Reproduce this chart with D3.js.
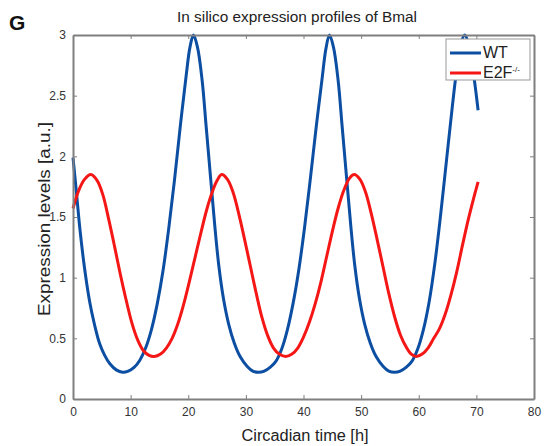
<!DOCTYPE html>
<html>
<head>
<meta charset="utf-8">
<script src="https://cdn.jsdelivr.net/npm/d3@7"></script>
<style>
  body { margin: 0; background: #fff; }
  svg text { font-family: "Liberation Sans", Arial, sans-serif; }
</style>
</head>
<body>
<svg id="chart"></svg>
<script>
// WT (blue): time [h] and expression level
const wtTime = [0, 0.6, 1.2, 2, 2.9, 3.7, 4.6, 5.5, 6.4, 7.5, 8.6,
  9.6, 10.6, 11.6, 12.6, 13.6, 14.6, 15.6, 16.6, 17.6, 18.6, 19.6, 20.3, 20.9,
  21.6, 22.4, 23.1, 23.9, 24.6, 25.3, 26.1, 27, 28, 29, 30.2, 31.2, 32.2,
  33.2, 34.2, 35.2, 36.2, 37.2, 38.2, 39.2, 40.2, 41.2, 42.2, 43.2, 43.9, 44.5,
  45.2, 46, 46.7, 47.5, 48.2, 48.9, 49.7, 50.6, 51.6, 52.6, 53.8, 54.8, 55.8,
  56.8, 57.8, 58.8, 59.8, 60.8, 61.8, 62.8, 63.8, 64.8, 65.8, 66.6, 67.3, 68,
  68.7, 69.5, 70.3];
const wtLevel = [1.99, 1.7, 1.4, 1.08, 0.8, 0.62, 0.46, 0.36, 0.29, 0.24, 0.22,
  0.23, 0.26, 0.32, 0.42, 0.57, 0.78, 1.05, 1.4, 1.8, 2.24, 2.65, 2.9, 3.0,
  2.9, 2.63, 2.25, 1.81, 1.43, 1.1, 0.83, 0.62, 0.46, 0.35, 0.27, 0.23, 0.22,
  0.23, 0.26, 0.31, 0.41, 0.57, 0.79, 1.07, 1.42, 1.82, 2.24, 2.63, 2.89, 3.0,
  2.9, 2.63, 2.25, 1.81, 1.43, 1.1, 0.83, 0.62, 0.46, 0.35, 0.27, 0.23, 0.22,
  0.23, 0.26, 0.31, 0.41, 0.57, 0.8, 1.12, 1.52, 1.96, 2.4, 2.72, 2.93, 3.0,
  2.91, 2.68, 2.38];

// E2F-/- (red)
const koTime = [0, 1, 2, 3.1, 4.2, 5.2, 6.2, 7.2, 8.2, 9.2, 10.2, 11.2, 12.2, 13.2, 14.1,
  15.2, 16.2, 17.2, 18.2, 19.2, 20.2, 21.2, 22.2, 23.2, 24.2, 25, 25.8,
  26.8, 27.8, 28.8, 29.8, 30.8, 31.8, 32.8, 33.8, 34.8, 35.8, 36.9,
  38, 39, 40, 41, 42, 43, 44, 45, 46, 47, 48, 48.8,
  49.8, 50.8, 51.8, 52.8, 53.8, 54.8, 55.8, 56.8, 57.8, 58.7, 59.6,
  60.6, 61.6, 62.6, 63.6, 64.6, 65.6, 66.6, 67.6, 68.6, 69.5, 70.3];
const koLevel = [1.57, 1.72, 1.81, 1.85, 1.8, 1.68, 1.48, 1.26, 1.03, 0.82, 0.63, 0.49, 0.4, 0.36, 0.35,
  0.37, 0.42, 0.5, 0.62, 0.78, 0.97, 1.17, 1.37, 1.56, 1.71, 1.8, 1.85,
  1.81, 1.7, 1.52, 1.31, 1.09, 0.87, 0.67, 0.52, 0.42, 0.37, 0.35,
  0.37, 0.42, 0.51, 0.63, 0.78, 0.96, 1.17, 1.38, 1.57, 1.72, 1.82, 1.85,
  1.81, 1.7, 1.52, 1.31, 1.09, 0.87, 0.68, 0.53, 0.43, 0.37, 0.35,
  0.37, 0.42, 0.5, 0.58, 0.7, 0.86, 1.05, 1.27, 1.48, 1.65, 1.79];

const xTicks = [0, 10, 20, 30, 40, 50, 60, 70, 80];
const yTicks = [0, 0.5, 1, 1.5, 2, 2.5, 3];

const width = 545;
const height = 446;
const m = { left: 73, right: 534, top: 35, bottom: 399 };

const svg = d3.select("#chart").attr("width", width).attr("height", height);

const x = d3.scaleLinear().domain([0, 80]).range([m.left, m.right]);
const y = d3.scaleLinear().domain([0, 3]).range([m.bottom, m.top]);

const axisColor = "#7f7f7f";
const labelColor = "#333";

// panel letter and title
svg.append("text").attr("x", 9).attr("y", 30)
  .attr("font-size", 21).attr("font-weight", "bold").attr("fill", "#111").text("G");
svg.append("text").attr("x", 297).attr("y", 22).attr("text-anchor", "middle")
  .attr("font-size", 14).attr("fill", "#222")
  .attr("textLength", 240).attr("lengthAdjust", "spacingAndGlyphs")
  .text("In silico expression profiles of Bmal");

// series lines
const line = d3.line().x(d => x(d[0])).y(d => y(d[1])).curve(d3.curveCatmullRom.alpha(0.5));
const wt = wtTime.map((t, i) => [t, wtLevel[i]]);
const ko = koTime.map((t, i) => [t, koLevel[i]]);

const plot = svg.append("g");
plot.append("path").datum(wt).attr("d", line)
  .attr("fill", "none").attr("stroke", "#0b4ea2").attr("stroke-width", 3);
plot.append("path").datum(ko).attr("d", line)
  .attr("fill", "none").attr("stroke", "#f51616").attr("stroke-width", 3);

// axes (matlab box style, ticks inside on all sides)
const axBottom = svg.append("g").attr("transform", `translate(0,${m.bottom})`)
  .call(d3.axisBottom(x).tickValues(xTicks).tickSize(-4).tickPadding(8).tickSizeOuter(0));
const axLeft = svg.append("g").attr("transform", `translate(${m.left},0)`)
  .call(d3.axisLeft(y).tickValues(yTicks).tickFormat(d3.format("")).tickSize(-4).tickPadding(7).tickSizeOuter(0));
const axTop = svg.append("g").attr("transform", `translate(0,${m.top})`)
  .call(d3.axisTop(x).tickValues(xTicks).tickSize(-4).tickFormat("").tickSizeOuter(0));
const axRight = svg.append("g").attr("transform", `translate(${m.right},0)`)
  .call(d3.axisRight(y).tickValues(yTicks).tickSize(-4).tickFormat("").tickSizeOuter(0));

[axBottom, axLeft, axTop, axRight].forEach(g => {
  g.select(".domain").attr("stroke", axisColor).attr("stroke-width", 2);
  g.selectAll(".tick line").attr("stroke", axisColor);
  g.selectAll(".tick text").attr("fill", labelColor).attr("font-size", 12)
    .attr("font-family", "'Liberation Sans', Arial, sans-serif");
});

// axis labels
svg.append("text").attr("x", 305).attr("y", 441).attr("text-anchor", "middle")
  .attr("font-size", 16).attr("fill", "#222")
  .attr("textLength", 127).attr("lengthAdjust", "spacingAndGlyphs")
  .text("Circadian time [h]");
svg.append("text").attr("transform", "translate(50,219) rotate(-90)").attr("text-anchor", "middle")
  .attr("font-size", 16).attr("fill", "#222")
  .attr("textLength", 194).attr("lengthAdjust", "spacingAndGlyphs")
  .text("Expression levels [a.u.]");

// legend
const lg = svg.append("g").attr("transform", "translate(446,39)");
lg.append("rect").attr("width", 84).attr("height", 41)
  .attr("fill", "#fff").attr("stroke", "#999").attr("stroke-width", 1);
lg.append("line").attr("x1", 4).attr("x2", 35).attr("y1", 14).attr("y2", 14)
  .attr("stroke", "#0b4ea2").attr("stroke-width", 3);
lg.append("text").attr("x", 37).attr("y", 19).attr("font-size", 16).attr("fill", "#222").text("WT");
lg.append("line").attr("x1", 4).attr("x2", 35).attr("y1", 34).attr("y2", 34)
  .attr("stroke", "#f51616").attr("stroke-width", 3);
const e2f = lg.append("text").attr("x", 37).attr("y", 39).attr("font-size", 16).attr("fill", "#222");
e2f.append("tspan").text("E2F");
e2f.append("tspan").attr("font-size", 8).attr("dy", -6).text("-/-");
</script>
</body>
</html>
